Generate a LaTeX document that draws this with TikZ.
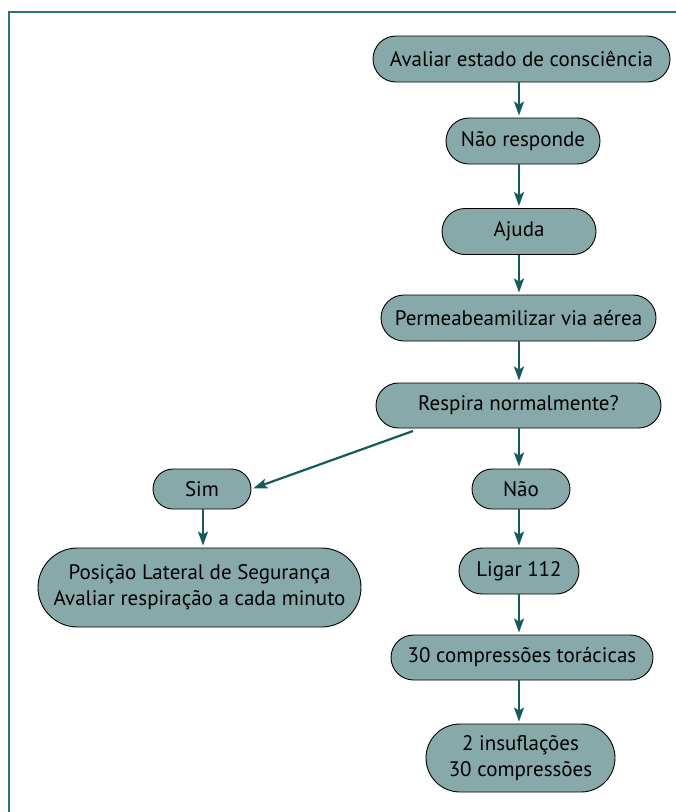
\documentclass[tikz,border=0pt]{standalone}
\usepackage{fontspec}
\setmainfont{PT Sans}
\usetikzlibrary{positioning, arrows.meta, shapes.misc}

\definecolor{boxfill}{HTML}{87A9A9}
\definecolor{arrowteal}{HTML}{175A5C}
\definecolor{frameteal}{HTML}{2E7272}

\tikzset{
  stepnode/.style={rounded rectangle, draw=black, line width=0.9pt, fill=boxfill,
    inner sep=0pt, align=center, font=\fontsize{21}{26}\selectfont},
  flow/.style={-{Stealth[length=14pt, width=10pt, inset=3pt]}, color=arrowteal,
    line width=2.2pt, shorten >=2pt}
}

\begin{document}
\begin{tikzpicture}[x=1pt, y=-1pt]
  \useasboundingbox (0,0) rectangle (676,812);
  \clip (0,0) rectangle (676,812);
  \draw[frameteal, line width=1.5pt] (9,12) rectangle (700,840);

  % main column
  \node[stepnode, minimum width=297pt, minimum height=46pt] (avaliar) at (521.5,59) {Avaliar estado de consciência};
  \node[stepnode, minimum width=154pt, minimum height=46pt] (naoresp) at (523,141) {Não responde};
  \node[stepnode, minimum width=154pt, minimum height=46pt] (ajuda) at (519,231.5) {Ajuda};
  \node[stepnode, minimum width=275pt, minimum height=46pt] (via) at (518.5,318) {Permeabeamilizar via aérea};
  \node[stepnode, minimum width=285pt, minimum height=45pt] (respira) at (518.5,405.5) {Respira normalmente?};
  \node[stepnode, minimum width=98pt, minimum height=40pt] (nao) at (521,489) {Não};
  \node[stepnode, minimum width=120pt, minimum height=46pt] (ligar) at (519,571) {Ligar 112};
  \node[stepnode, minimum width=262pt, minimum height=45pt] (compr) at (522,657.5) {30 compressões torácicas};
  \node[stepnode, minimum width=189pt, minimum height=68pt] (ciclo) at (520.5,758) {2 insuflações\\30 compressões};

  % left branch
  \node[stepnode, minimum width=98pt, minimum height=40pt] (sim) at (202,489) {Sim};
  \node[stepnode, minimum width=323pt, minimum height=79pt] (pls) at (199.5,587.5) {Posição Lateral de Segurança\\Avaliar respiração a cada minuto};
  \coordinate (split) at (413,431);
  \coordinate (maincol) at (519,0);
  \coordinate (leftcol) at (203,0);

  \path[flow]
    (avaliar.south -| maincol) edge (naoresp.north -| maincol)
    (naoresp.south -| maincol) edge (ajuda.north -| maincol)
    (ajuda.south -| maincol) edge (via.north -| maincol)
    (via.south -| maincol) edge (respira.north -| maincol)
    (respira.south -| maincol) edge (nao.north -| maincol)
    (nao.south -| maincol) edge (ligar.north -| maincol)
    (ligar.south -| maincol) edge (compr.north -| maincol)
    (compr.south -| maincol) edge (ciclo.north -| maincol)
    (split) edge (sim.east)
    (sim.south -| leftcol) edge (pls.north -| leftcol)
  ;
\end{tikzpicture}
\end{document}
